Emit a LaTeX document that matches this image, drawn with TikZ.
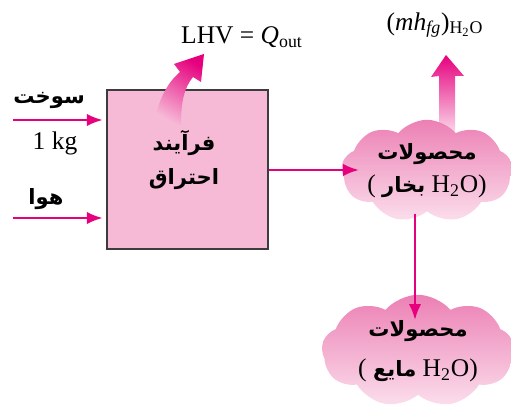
\documentclass[tikz,border=0pt]{standalone}
\usepackage{fontspec}
\setmainfont{Liberation Serif}
\newfontfamily\arabicfont[Script=Arabic]{DejaVu Sans}
\TeXXeTstate=1
\usepackage{xcolor}
\definecolor{flowmag}{RGB}{230,0,126}
\definecolor{boxpink}{RGB}{246,186,215}
\definecolor{boxline}{RGB}{60,60,60}
\definecolor{cloudtop}{RGB}{236,128,180}
\definecolor{cloudbot}{RGB}{251,222,236}
\usepackage{tikz}
\usetikzlibrary{arrows.meta, positioning, shapes.symbols}
\newcommand{\fatxt}[1]{{\arabicfont\bfseries\fontsize{12}{14}\selectfont\beginR#1\endR}}

\begin{document}
\begin{tikzpicture}[x=0.02cm, y=-0.02cm,
  font=\fontsize{14.5}{16}\selectfont,
  flow/.style={draw=flowmag, line width=1.4pt, -{Latex[length=9pt,width=7pt]}},
  procbox/.style={draw=boxline, line width=0.8pt, fill=boxpink, minimum width=3.22cm, minimum height=3.18cm},
  prodcloud/.style={cloud, cloud puffs=9, cloud puff arc=100, cloud ignores aspect, top color=cloudtop, bottom color=cloudbot, align=center, inner sep=0pt}]
  \useasboundingbox (0,0) rectangle (511,412);
  % heat arrows
  \shade[top color=flowmag, bottom color=cloudbot] (439,135) -- (439,76) -- (431,77) -- (446,55) -- (464,76) -- (455,76) -- (455,135) -- cycle;
  % process box
  \node[procbox] (proc) at (187.5,169.5) {};
  \shade[top color=flowmag, bottom color=boxpink, shading angle=-31] (153,125) .. controls (159,100) and (166,84) .. (180,72) -- (174,64) -- (204,54) -- (201,82) -- (193,77) .. controls (184,88) and (181,102) .. (181,125) -- cycle;
  \node[align=center] (proctext) at (184,160) {\fatxt{فرآیند}\\[3pt]\fatxt{احتراق}};
  % products
  \node[prodcloud, minimum width=3.4cm, minimum height=2.05cm] (prodvap) at (427,171) {\fatxt{محصولات}\\[3pt]( \fatxt{بخار} H\textsubscript{2}O)};
  \node[prodcloud, minimum width=3.85cm, minimum height=2.25cm] (prodliq) at (418,351) {\fatxt{محصولات}\\[7pt]( \fatxt{مایع} H\textsubscript{2}O)};
  % labels
  \node (fuel) at (49,100) {\fatxt{سوخت}};
  \node (mass) at (55,143) {1 kg};
  \node (air) at (46,199) {\fatxt{هوا}};
  \node (lhv) at (242,37) {LHV = \textit{Q}\textsubscript{out}};
  \node (latent) at (435,25) {(\textit{mh}\textsubscript{\textit{fg}})\textsubscript{H\textsubscript{2}O}};
  % flows
  \coordinate (fuelin) at (13,120);
  \coordinate (airin) at (13,218);
  \coordinate (prodin) at (359,170);
  \coordinate (condtop) at (415,214);
  \coordinate (condbot) at (415,320);
  \draw[flow] (fuelin) -- ([xshift=-2pt]fuelin -| proc.west);
  \draw[flow] (airin) -- ([xshift=-2pt]airin -| proc.west);
  \draw[flow] (proc.east |- prodin) -- (prodin);
  \draw[flow] (condtop) -- (condbot);
\end{tikzpicture}
\end{document}
